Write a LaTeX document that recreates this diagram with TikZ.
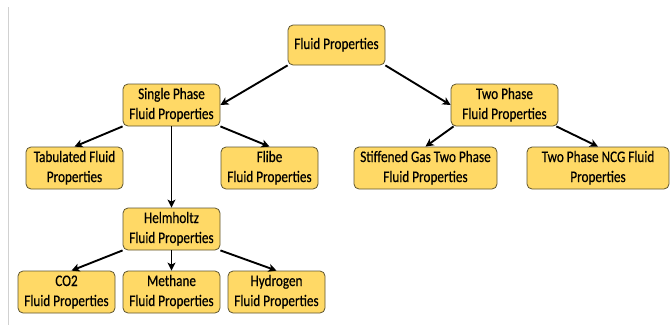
\documentclass[tikz,border=0pt]{standalone}
\usepackage{fontspec}
\usepackage{graphicx}
\setmainfont{Carlito}
\newfontfamily\boxfont[FakeBold=0.5]{Carlito}
\usetikzlibrary{arrows.meta}
\definecolor{boxfill}{HTML}{FFD966}
\definecolor{boxline}{HTML}{5E5530}
\newcommand{\bxtext}[1]{\scalebox{1}[1.22]{\begin{tabular}{@{}c@{}}#1\end{tabular}}}
\tikzset{
  box/.style={draw=boxline, line width=0.8pt, fill=boxfill, rounded corners=5pt,
    minimum height=42pt, inner sep=0pt, align=center,
    font=\boxfont\fontsize{13.2pt}{16.4pt}\selectfont},
  conn/.style={line width=1.9pt, -{Stealth[length=8pt,width=8pt,inset=2pt]}}
}
\begin{document}
\begin{tikzpicture}[x=1pt,y=-1pt]
\useasboundingbox (0,0) rectangle (670,325);
\draw[black!18, line width=0.8pt] (8,7) -- (8,325);
\node[box, minimum width=97pt, minimum height=40pt] (fp) at (336.5,45) {\bxtext{Fluid Properties}};
\node[box, minimum width=97pt] (sp) at (171.5,105) {\bxtext{Single Phase\\Fluid Properties}};
\node[box, minimum width=107pt] (tp) at (504.5,105) {\bxtext{Two Phase\\Fluid Properties}};
\node[box, minimum width=97pt] (tab) at (74.5,168) {\bxtext{Tabulated Fluid\\Properties}};
\node[box, minimum width=97pt] (fl) at (269.5,168) {\bxtext{Flibe\\Fluid Properties}};
\node[box, minimum width=143pt] (sg) at (425.5,168) {\bxtext{Stiffened Gas Two Phase\\Fluid Properties}};
\node[box, minimum width=142pt] (ncg) at (598,168) {\bxtext{Two Phase NCG Fluid\\Properties}};
\node[box, minimum width=97pt] (hh) at (171.5,229) {\bxtext{Helmholtz\\Fluid Properties}};
\node[box, minimum width=97pt] (co) at (66.5,292) {\bxtext{CO2\\Fluid Properties}};
\node[box, minimum width=97pt] (me) at (171.5,292) {\bxtext{Methane\\Fluid Properties}};
\node[box, minimum width=97pt] (hy) at (276.5,292) {\bxtext{Hydrogen\\Fluid Properties}};
\draw[conn] (fp.south west) -- (sp.east);
\draw[conn] (fp.south east) -- (tp.west);
\draw[conn] (sp.south west) -- (tab.north);
\draw[conn] (sp.south east) -- (fl.north);
\draw[conn] (sp.south) -- (hh.north);
\draw[conn] ([xshift=3pt]tp.south west) -- (sg.north);
\draw[conn] ([xshift=-2pt]tp.south east) -- (ncg.north);
\draw[conn] (hh.south west) -- ([xshift=5pt]co.north);
\draw[conn] (hh.south) -- (me.north);
\draw[conn] (hh.south east) -- (hy.north);
\end{tikzpicture}
\end{document}
